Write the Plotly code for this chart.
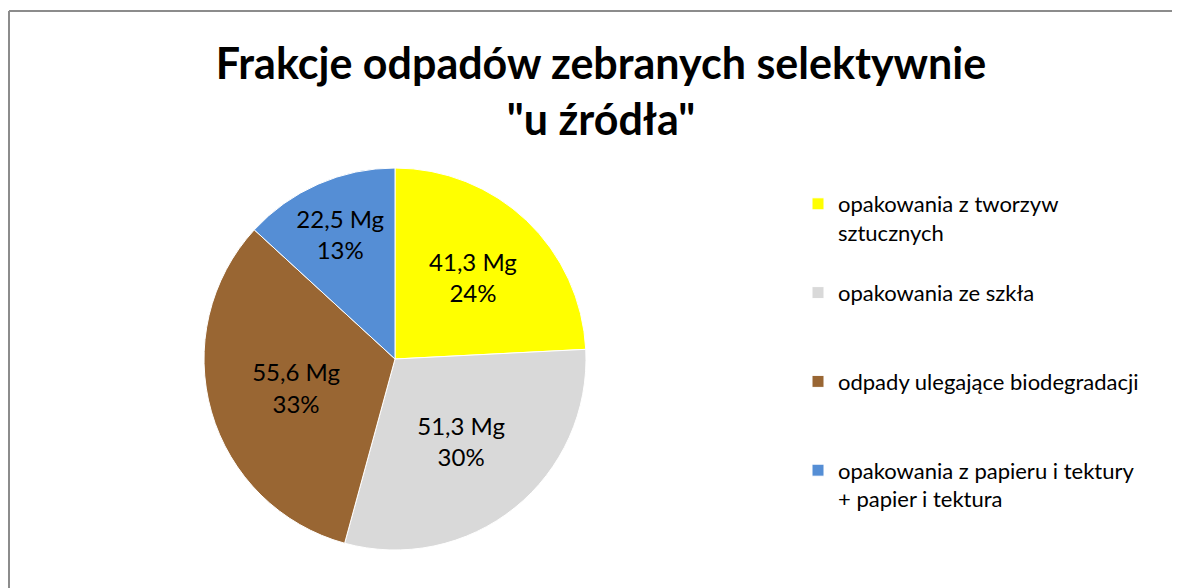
import plotly.graph_objects as go

categories = [
    "opakowania z tworzyw<br>sztucznych",
    "opakowania ze szkła",
    "odpady ulegające biodegradacji",
    "opakowania z papieru i tektury<br>+ papier i tektura",
]
values_mg = [41.3, 51.3, 55.6, 22.5]
colors = ["#FFFF00", "#D9D9D9", "#996633", "#558ED5"]
# extra blank lines to reproduce the spacing of the legend entries
legend_padding = ["<br>&nbsp;", "<br>&nbsp;<br>&nbsp;", "<br>&nbsp;<br>&nbsp;", ""]

# page body has an 8px margin, so the figure is sized to fill the rest
W, H = 1172, 580

fig = go.Figure()
fig.add_trace(go.Pie(
    labels=[c + p for c, p in zip(categories, legend_padding)],
    values=values_mg,
    sort=False,
    direction="clockwise",
    rotation=0,
    marker=dict(colors=colors, line=dict(color="#FFFFFF", width=1)),
    texttemplate="%{value:.1f} Mg<br>%{percent:.0%}",
    textposition="inside",
    insidetextorientation="horizontal",
    textfont=dict(family="Lato", size=24, color="#000000"),
    hoverinfo="label+value+percent",
    domain=dict(x=[60 / W, 714 / W], y=[1 - 542 / H, 1 - 160 / H]),
))

fig.update_layout(
    width=W, height=H,
    separators=", ",
    paper_bgcolor="#FFFFFF",
    plot_bgcolor="#FFFFFF",
    margin=dict(l=0, r=0, t=0, b=0),
    title=dict(
        text="<b>Frakcje odpadów zebranych selektywnie<br>\"u źródła\"</b>",
        x=593 / W, xanchor="center", y=1 - 71 / H, yanchor="middle",
        font=dict(family="Lato", size=43, color="#000000"),
    ),
    legend=dict(
        x=790 / W, xanchor="left", y=1 - 175 / H, yanchor="top",
        font=dict(family="Lato", size=22, color="#000000"),
        valign="top",
        bgcolor="rgba(0,0,0,0)",
    ),
    shapes=[
        dict(type="line", xref="paper", yref="paper",
             x0=1 / W, x1=1.0, y0=1 - 3 / H, y1=1 - 3 / H,
             line=dict(color="#8C8C8C", width=2), layer="below"),
        dict(type="line", xref="paper", yref="paper",
             x0=1 / W, x1=1 / W, y0=0.0, y1=1 - 3 / H,
             line=dict(color="#8C8C8C", width=2), layer="below"),
    ],
)

fig.write_html("out.html")
